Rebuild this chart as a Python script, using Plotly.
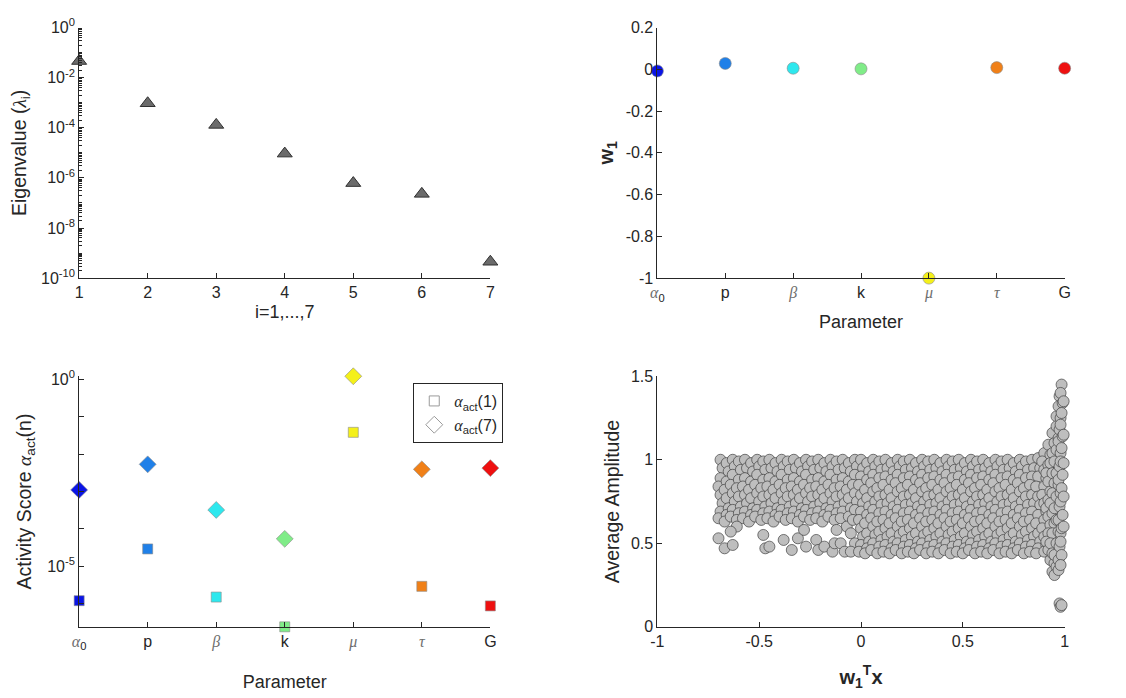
import plotly.graph_objects as go
from plotly.subplots import make_subplots

# ---- eigenvalue spectrum ----
eig_index = [1, 2, 3, 4, 5, 6, 7]
eig_values = [4.6e-2, 9.5e-4, 1.3e-4, 9.3e-6, 6.2e-7, 2.3e-7, 4.5e-10]

# ---- parameters and their colours ----
param_pos = [1, 2, 3, 4, 5, 6, 7]
GREEK = "<span style=\"font-family:'Liberation Serif', 'DejaVu Serif', serif; fill:#6e6e6e\">"
GREEK_DARK = "<span style=\"font-family:'Liberation Serif', 'DejaVu Serif', serif\">"
param_labels = [GREEK + "<i>α</i></span><sub>0</sub>", "p", GREEK + "<i>β</i></span>", "k",
                GREEK + "<i>μ</i></span>", GREEK + "<i>τ</i></span>", "G"]
param_colors = ["#0a14e6", "#2080e8", "#2ee8ee", "#80ec88", "#f4f01a", "#f08018", "#ee1010"]

# first eigenvector components
w1_values = [-0.008, 0.028, 0.005, 0.002, -1.0, 0.008, 0.005]

# activity scores
act1_values = [1.2e-6, 2.9e-5, 1.5e-6, 2.4e-7, 3.8e-2, 2.9e-6, 8.7e-7]
act7_values = [1.1e-3, 5.3e-3, 3.2e-4, 5.4e-5, 1.2e0, 3.9e-3, 4.2e-3]

# ---- average amplitude against the active variable ----
amp_x = [
    # left block
    -0.69, -0.68, -0.69, -0.70, -0.69, -0.68, -0.69, -0.70,
    -0.66, -0.65, -0.66, -0.67, -0.66, -0.65, -0.66, -0.67,
    -0.63, -0.62, -0.63, -0.64, -0.63, -0.62, -0.63, -0.64,
    -0.60, -0.59, -0.60, -0.61, -0.60, -0.59, -0.60, -0.61,
    -0.57, -0.56, -0.57, -0.58, -0.57, -0.56, -0.57, -0.58,
    -0.54, -0.53, -0.54, -0.55, -0.54, -0.53, -0.54, -0.55,
    -0.51, -0.50, -0.51, -0.52, -0.51, -0.50, -0.51, -0.52,
    -0.48, -0.47, -0.48, -0.49, -0.48, -0.47, -0.48, -0.49,
    -0.45, -0.44, -0.45, -0.46, -0.45, -0.44, -0.45, -0.46,
    -0.42, -0.41, -0.42, -0.43, -0.42, -0.41, -0.42, -0.43,
    -0.39, -0.38, -0.39, -0.40, -0.39, -0.38, -0.39, -0.40,
    -0.36, -0.35, -0.36, -0.37, -0.36, -0.35, -0.36, -0.37,
    -0.33, -0.32, -0.33, -0.34, -0.33, -0.32, -0.33, -0.34,
    -0.30, -0.29, -0.30, -0.31, -0.30, -0.29, -0.30, -0.31,
    -0.27, -0.26, -0.27, -0.28, -0.27, -0.26, -0.27, -0.28,
    -0.24, -0.23, -0.24, -0.25, -0.24, -0.23, -0.24, -0.25,
    -0.21, -0.20, -0.21, -0.22, -0.21, -0.20, -0.21, -0.22,
    -0.18, -0.17, -0.18, -0.19, -0.18, -0.17, -0.18, -0.19,
    -0.15, -0.14, -0.15, -0.16, -0.15, -0.14, -0.15, -0.16,
    -0.12, -0.11, -0.12, -0.13, -0.12, -0.11, -0.12, -0.13,
    -0.09, -0.08, -0.09, -0.10, -0.09, -0.08, -0.09, -0.10,
    -0.06, -0.05, -0.06, -0.07, -0.06, -0.05, -0.06, -0.07,
    -0.03, -0.02, -0.03, -0.04, -0.03, -0.02, -0.03, -0.04,
    # sparse low points on the left
    -0.70, -0.67, -0.63, -0.61, -0.64, -0.48, -0.47, -0.45, -0.38, -0.34, -0.31, -0.28,
    -0.27, -0.22, -0.21, -0.18, -0.14, -0.13, -0.10, -0.08, -0.12, -0.05, -0.03, -0.05,
    # central block
    0.00, 0.01, 0.00, -0.01, 0.00, 0.01, 0.00, -0.01, 0.00, 0.01, 0.00, -0.01,
    0.03, 0.04, 0.03, 0.02, 0.03, 0.04, 0.03, 0.02, 0.03, 0.04, 0.03, 0.02,
    0.06, 0.07, 0.06, 0.05, 0.06, 0.07, 0.06, 0.05, 0.06, 0.07, 0.06, 0.05,
    0.09, 0.10, 0.09, 0.08, 0.09, 0.10, 0.09, 0.08, 0.09, 0.10, 0.09, 0.08,
    0.12, 0.13, 0.12, 0.11, 0.12, 0.13, 0.12, 0.11, 0.12, 0.13, 0.12, 0.11,
    0.15, 0.16, 0.15, 0.14, 0.15, 0.16, 0.15, 0.14, 0.15, 0.16, 0.15, 0.14,
    0.18, 0.19, 0.18, 0.17, 0.18, 0.19, 0.18, 0.17, 0.18, 0.19, 0.18, 0.17,
    0.21, 0.22, 0.21, 0.20, 0.21, 0.22, 0.21, 0.20, 0.21, 0.22, 0.21, 0.20,
    0.24, 0.25, 0.24, 0.23, 0.24, 0.25, 0.24, 0.23, 0.24, 0.25, 0.24, 0.23,
    0.27, 0.28, 0.27, 0.26, 0.27, 0.28, 0.27, 0.26, 0.27, 0.28, 0.27, 0.26,
    0.30, 0.31, 0.30, 0.29, 0.30, 0.31, 0.30, 0.29, 0.30, 0.31, 0.30, 0.29,
    0.33, 0.34, 0.33, 0.32, 0.33, 0.34, 0.33, 0.32, 0.33, 0.34, 0.33, 0.32,
    0.36, 0.37, 0.36, 0.35, 0.36, 0.37, 0.36, 0.35, 0.36, 0.37, 0.36, 0.35,
    0.39, 0.40, 0.39, 0.38, 0.39, 0.40, 0.39, 0.38, 0.39, 0.40, 0.39, 0.38,
    0.42, 0.43, 0.42, 0.41, 0.42, 0.43, 0.42, 0.41, 0.42, 0.43, 0.42, 0.41,
    0.45, 0.46, 0.45, 0.44, 0.45, 0.46, 0.45, 0.44, 0.45, 0.46, 0.45, 0.44,
    0.48, 0.49, 0.48, 0.47, 0.48, 0.49, 0.48, 0.47, 0.48, 0.49, 0.48, 0.47,
    0.51, 0.52, 0.51, 0.50, 0.51, 0.52, 0.51, 0.50, 0.51, 0.52, 0.51, 0.50,
    0.54, 0.55, 0.54, 0.53, 0.54, 0.55, 0.54, 0.53, 0.54, 0.55, 0.54, 0.53,
    0.57, 0.58, 0.57, 0.56, 0.57, 0.58, 0.57, 0.56, 0.57, 0.58, 0.57, 0.56,
    0.60, 0.61, 0.60, 0.59, 0.60, 0.61, 0.60, 0.59, 0.60, 0.61, 0.60, 0.59,
    0.63, 0.64, 0.63, 0.62, 0.63, 0.64, 0.63, 0.62, 0.63, 0.64, 0.63, 0.62,
    0.66, 0.67, 0.66, 0.65, 0.66, 0.67, 0.66, 0.65, 0.66, 0.67, 0.66, 0.65,
    0.69, 0.70, 0.69, 0.68, 0.69, 0.70, 0.69, 0.68, 0.69, 0.70, 0.69, 0.68,
    0.72, 0.73, 0.72, 0.71, 0.72, 0.73, 0.72, 0.71, 0.72, 0.73, 0.72, 0.71,
    0.75, 0.76, 0.75, 0.74, 0.75, 0.76, 0.75, 0.74, 0.75, 0.76, 0.75, 0.74,
    0.78, 0.79, 0.78, 0.77, 0.78, 0.79, 0.78, 0.77, 0.78, 0.79, 0.78, 0.77,
    0.81, 0.82, 0.81, 0.80, 0.81, 0.82, 0.81, 0.80, 0.81, 0.82, 0.81, 0.80,
    0.84, 0.85, 0.84, 0.83, 0.84, 0.85, 0.84, 0.83, 0.84, 0.85, 0.84, 0.83,
    0.87, 0.88, 0.87, 0.86, 0.87, 0.88, 0.87, 0.86, 0.87, 0.88, 0.87, 0.86,
    # right-hand spike
    0.90, 0.89, 0.90, 0.91, 0.90, 0.89, 0.90, 0.91, 0.90, 0.89, 0.90, 0.91, 0.90,
    0.92, 0.93, 0.92, 0.91, 0.92, 0.93, 0.92, 0.91, 0.92, 0.93, 0.92, 0.91, 0.92, 0.93,
    0.94, 0.95, 0.94, 0.93, 0.94, 0.95, 0.94, 0.93, 0.94, 0.95, 0.94, 0.93, 0.94, 0.95, 0.94,
    0.96, 0.96, 0.97, 0.96, 0.95, 0.96, 0.97, 0.96, 0.95, 0.96, 0.97, 0.96, 0.95, 0.96, 0.95,
    0.975, 0.97, 0.98, 0.975, 0.97, 0.98, 0.975, 0.97, 0.98, 0.975, 0.97, 0.98, 0.975, 0.97, 0.97,
    0.985, 0.98, 0.99, 0.985, 0.98, 0.99, 0.985, 0.98, 0.99, 0.985, 0.98, 0.99, 0.985, 0.98, 0.985, 0.98,
    0.995, 0.995, 0.995, 0.995, 0.995,
    # low outliers
    0.975, 0.98, 0.985,
]
amp_y = [
    # left block
    1.00, 0.95, 0.89, 0.84, 0.79, 0.74, 0.69, 0.65,
    0.98, 0.93, 0.87, 0.82, 0.77, 0.71, 0.67, 0.63,
    1.00, 0.96, 0.91, 0.85, 0.80, 0.75, 0.70, 0.66,
    0.99, 0.94, 0.88, 0.83, 0.78, 0.72, 0.68, 0.64,
    1.00, 0.95, 0.89, 0.84, 0.79, 0.74, 0.69, 0.65,
    0.98, 0.93, 0.87, 0.82, 0.77, 0.71, 0.67, 0.63,
    1.00, 0.96, 0.91, 0.85, 0.80, 0.75, 0.70, 0.66,
    0.99, 0.94, 0.88, 0.83, 0.78, 0.72, 0.68, 0.64,
    1.00, 0.95, 0.89, 0.84, 0.79, 0.74, 0.69, 0.65,
    0.98, 0.93, 0.87, 0.82, 0.77, 0.71, 0.67, 0.63,
    1.00, 0.96, 0.91, 0.85, 0.80, 0.75, 0.70, 0.66,
    0.99, 0.94, 0.88, 0.83, 0.78, 0.72, 0.68, 0.64,
    1.00, 0.95, 0.89, 0.84, 0.79, 0.74, 0.69, 0.65,
    0.98, 0.93, 0.87, 0.82, 0.77, 0.71, 0.67, 0.63,
    1.00, 0.96, 0.91, 0.85, 0.80, 0.75, 0.70, 0.66,
    0.99, 0.94, 0.88, 0.83, 0.78, 0.72, 0.68, 0.64,
    1.00, 0.95, 0.89, 0.84, 0.79, 0.74, 0.69, 0.65,
    0.98, 0.93, 0.87, 0.82, 0.77, 0.71, 0.67, 0.63,
    1.00, 0.96, 0.91, 0.85, 0.80, 0.75, 0.70, 0.66,
    0.99, 0.94, 0.88, 0.83, 0.78, 0.72, 0.68, 0.64,
    1.00, 0.95, 0.89, 0.84, 0.79, 0.74, 0.69, 0.65,
    0.98, 0.93, 0.87, 0.82, 0.77, 0.71, 0.66, 0.60,
    1.00, 0.96, 0.91, 0.85, 0.80, 0.75, 0.70, 0.64,
    # sparse low points on the left
    0.53, 0.47, 0.49, 0.60, 0.57, 0.55, 0.47, 0.48, 0.52, 0.46, 0.53, 0.58,
    0.48, 0.52, 0.46, 0.48, 0.45, 0.50, 0.50, 0.45, 0.58, 0.56, 0.50, 0.45,
    # central block
    1.00, 0.95, 0.90, 0.85, 0.79, 0.74, 0.69, 0.64, 0.59, 0.54, 0.49, 0.45,
    0.98, 0.93, 0.88, 0.82, 0.77, 0.72, 0.67, 0.62, 0.56, 0.51, 0.47, 0.44,
    1.00, 0.96, 0.91, 0.86, 0.81, 0.75, 0.70, 0.65, 0.60, 0.55, 0.50, 0.46,
    0.99, 0.94, 0.89, 0.83, 0.78, 0.73, 0.68, 0.63, 0.57, 0.52, 0.48, 0.44,
    1.00, 0.95, 0.90, 0.85, 0.79, 0.74, 0.69, 0.64, 0.59, 0.54, 0.49, 0.45,
    0.98, 0.93, 0.88, 0.82, 0.77, 0.72, 0.67, 0.62, 0.56, 0.51, 0.47, 0.44,
    1.00, 0.96, 0.91, 0.86, 0.81, 0.75, 0.70, 0.65, 0.60, 0.55, 0.50, 0.46,
    0.99, 0.94, 0.89, 0.83, 0.78, 0.73, 0.68, 0.63, 0.57, 0.52, 0.48, 0.44,
    1.00, 0.95, 0.90, 0.85, 0.79, 0.74, 0.69, 0.64, 0.59, 0.54, 0.49, 0.45,
    0.98, 0.93, 0.88, 0.82, 0.77, 0.72, 0.67, 0.62, 0.56, 0.51, 0.47, 0.44,
    1.00, 0.96, 0.91, 0.86, 0.81, 0.75, 0.70, 0.65, 0.60, 0.55, 0.50, 0.46,
    0.99, 0.94, 0.89, 0.83, 0.78, 0.73, 0.68, 0.63, 0.57, 0.52, 0.48, 0.44,
    1.00, 0.95, 0.90, 0.85, 0.79, 0.74, 0.69, 0.64, 0.59, 0.54, 0.49, 0.45,
    0.98, 0.93, 0.88, 0.82, 0.77, 0.72, 0.67, 0.62, 0.56, 0.51, 0.47, 0.44,
    1.00, 0.96, 0.91, 0.86, 0.81, 0.75, 0.70, 0.65, 0.60, 0.55, 0.50, 0.46,
    0.99, 0.94, 0.89, 0.83, 0.78, 0.73, 0.68, 0.63, 0.57, 0.52, 0.48, 0.44,
    1.00, 0.95, 0.90, 0.85, 0.79, 0.74, 0.69, 0.64, 0.59, 0.54, 0.49, 0.45,
    0.98, 0.93, 0.88, 0.82, 0.77, 0.72, 0.67, 0.62, 0.56, 0.51, 0.47, 0.44,
    1.00, 0.96, 0.91, 0.86, 0.81, 0.75, 0.70, 0.65, 0.60, 0.55, 0.50, 0.46,
    0.99, 0.94, 0.89, 0.83, 0.78, 0.73, 0.68, 0.63, 0.57, 0.52, 0.48, 0.44,
    1.00, 0.95, 0.90, 0.85, 0.79, 0.74, 0.69, 0.64, 0.59, 0.54, 0.49, 0.45,
    0.98, 0.93, 0.88, 0.82, 0.77, 0.72, 0.67, 0.62, 0.56, 0.51, 0.47, 0.44,
    1.00, 0.96, 0.91, 0.86, 0.81, 0.75, 0.70, 0.65, 0.60, 0.55, 0.50, 0.46,
    0.99, 0.94, 0.89, 0.83, 0.78, 0.73, 0.68, 0.63, 0.57, 0.52, 0.48, 0.44,
    1.00, 0.95, 0.90, 0.85, 0.79, 0.74, 0.69, 0.64, 0.59, 0.54, 0.49, 0.45,
    0.98, 0.93, 0.88, 0.82, 0.77, 0.72, 0.67, 0.62, 0.56, 0.51, 0.47, 0.44,
    1.00, 0.96, 0.91, 0.86, 0.81, 0.75, 0.70, 0.65, 0.60, 0.55, 0.50, 0.46,
    0.99, 0.94, 0.89, 0.83, 0.78, 0.73, 0.68, 0.63, 0.57, 0.52, 0.48, 0.44,
    1.00, 0.95, 0.90, 0.85, 0.79, 0.74, 0.69, 0.64, 0.59, 0.54, 0.49, 0.45,
    1.01, 0.95, 0.90, 0.84, 0.78, 0.73, 0.67, 0.62, 0.56, 0.51, 0.47, 0.44,
    # right-hand spike
    1.04, 0.99, 0.94, 0.89, 0.84, 0.79, 0.74, 0.69, 0.64, 0.59, 0.54, 0.49, 0.45,
    1.09, 1.03, 0.97, 0.92, 0.87, 0.81, 0.76, 0.71, 0.66, 0.61, 0.56, 0.51, 0.46, 0.40,
    1.16, 1.10, 1.04, 0.98, 0.92, 0.86, 0.80, 0.74, 0.68, 0.62, 0.56, 0.50, 0.44, 0.38, 0.33,
    1.26, 1.20, 1.13, 1.06, 0.99, 0.92, 0.85, 0.78, 0.71, 0.64, 0.57, 0.50, 0.43, 0.36, 0.31,
    1.38, 1.32, 1.25, 1.18, 1.11, 1.04, 0.96, 0.88, 0.80, 0.72, 0.64, 0.56, 0.48, 0.40, 0.34,
    1.45, 1.40, 1.34, 1.28, 1.21, 1.14, 1.07, 0.99, 0.91, 0.83, 0.75, 0.67, 0.59, 0.51, 0.43, 0.37,
    1.35, 1.15, 0.98, 0.78, 0.60,
    # low outliers
    0.14, 0.12, 0.13,
]

INK = "#262626"
FONT = "Liberation Sans, Arial, Helvetica, sans-serif"
TICK_FONT = dict(size=16, color=INK, family=FONT)
XTITLE_FONT = dict(size=18, color=INK, family=FONT)
YTITLE_FONT = dict(size=19.5, color=INK, family=FONT)

fig = make_subplots(rows=2, cols=2)

# eigenvalues
fig.add_trace(go.Scatter(
    x=eig_index, y=eig_values, mode="markers", showlegend=False, cliponaxis=False,
    marker=dict(symbol="triangle-up", size=13, color="#6b6b6b",
                line=dict(color="#303030", width=1)),
), row=1, col=1)

# first eigenvector
fig.add_trace(go.Scatter(
    x=param_pos, y=w1_values, mode="markers", showlegend=False, cliponaxis=False,
    marker=dict(symbol="circle", size=12, color=param_colors,
                line=dict(color="#8a8a8a", width=0.6)),
), row=1, col=2)

# activity scores
fig.add_trace(go.Scatter(
    x=param_pos, y=act1_values, mode="markers", showlegend=False, cliponaxis=False,
    marker=dict(symbol="square", size=10, color=param_colors,
                line=dict(color="#8a8a8a", width=0.6)),
), row=2, col=1)
fig.add_trace(go.Scatter(
    x=param_pos, y=act7_values, mode="markers", showlegend=False, cliponaxis=False,
    marker=dict(symbol="diamond", size=13, color=param_colors,
                line=dict(color="#8a8a8a", width=0.6)),
), row=2, col=1)
# legend keys
fig.add_trace(go.Scatter(
    x=[None], y=[None], mode="markers", name=GREEK_DARK + "<i>α</i></span><sub>act</sub>(1)",
    marker=dict(symbol="square-open", size=10, color="#9a9a9a"),
), row=2, col=1)
fig.add_trace(go.Scatter(
    x=[None], y=[None], mode="markers", name=GREEK_DARK + "<i>α</i></span><sub>act</sub>(7)",
    marker=dict(symbol="diamond-open", size=13, color="#9a9a9a"),
), row=2, col=1)

# amplitude scatter
fig.add_trace(go.Scatter(
    x=amp_x, y=amp_y, mode="markers", showlegend=False, cliponaxis=False,
    marker=dict(symbol="circle", size=11, color="#bebebe",
                line=dict(color="#404040", width=0.7)),
), row=2, col=2)

axis_common = dict(showline=True, linecolor=INK, linewidth=1, ticks="inside",
                   ticklen=5, tickcolor=INK, showgrid=False, zeroline=False,
                   mirror=False, tickfont=TICK_FONT)

left_dom = [73 / 1126, 489 / 1126]
right_dom = [658 / 1126, 1070 / 1126]
top_dom = [1 - 275 / 698, 1 - 17 / 698]
bot_dom = [1 - 634 / 698, 1 - 376 / 698]

# top-left axes
eig_ticks = [1e-10, 1e-8, 1e-6, 1e-4, 1e-2, 1e0]
eig_ticktext = ["10<sup>-10</sup>", "10<sup>-8</sup>", "10<sup>-6</sup>",
                "10<sup>-4</sup>", "10<sup>-2</sup>", "10<sup>0</sup>"]
eig_minor = [m * 10.0 ** e for e in range(-10, 0) for m in range(2, 10)] + \
            [10.0 ** e for e in range(-9, 0, 2)]
fig.update_xaxes(axis_common, domain=left_dom, range=[1, 7], tickvals=eig_index,
                 title=dict(text="i=1,...,7", font=XTITLE_FONT, standoff=5),
                 row=1, col=1)
fig.update_yaxes(axis_common, domain=top_dom, type="log", range=[-10, 0],
                 tickvals=eig_ticks, ticktext=eig_ticktext,
                 minor=dict(tickvals=eig_minor, ticks="inside", ticklen=3, tickcolor=INK),
                 title=dict(text="Eigenvalue (" + GREEK_DARK + "<i>λ</i></span><sub>i</sub>)",
                            font=YTITLE_FONT, standoff=9),
                 row=1, col=1)

# top-right axes
w_ticks = [-1, -0.8, -0.6, -0.4, -0.2, 0, 0.2]
w_ticktext = ["-1", "-0.8", "-0.6", "-0.4", "-0.2", "0", "0.2"]
fig.update_xaxes(axis_common, domain=right_dom, range=[1, 7], tickvals=param_pos,
                 ticktext=param_labels,
                 title=dict(text="Parameter", font=XTITLE_FONT, standoff=12),
                 row=1, col=2)
fig.update_yaxes(axis_common, domain=top_dom, range=[-1, 0.2], tickvals=w_ticks,
                 ticktext=w_ticktext,
                 title=dict(text="<b>w<sub>1</sub></b>", font=dict(size=20, color=INK, family=FONT),
                            standoff=6),
                 row=1, col=2)

# bottom-left axes
act_ticks = [1e-5, 1e0]
act_ticktext = ["10<sup>-5</sup>", "10<sup>0</sup>"]
act_minor = [10.0 ** e for e in (-6, -4, -3, -2, -1)]
fig.update_xaxes(axis_common, domain=left_dom, range=[1, 7], tickvals=param_pos,
                 ticktext=param_labels,
                 title=dict(text="Parameter", font=XTITLE_FONT, standoff=24),
                 row=2, col=1)
fig.update_yaxes(axis_common, domain=bot_dom, type="log", range=[-6.62, 0.08],
                 tickvals=act_ticks, ticktext=act_ticktext,
                 minor=dict(tickvals=act_minor, ticks="inside", ticklen=5, tickcolor=INK),
                 title=dict(text="Activity Score " + GREEK_DARK + "<i>α</i></span><sub>act</sub>(n)",
                            font=YTITLE_FONT, standoff=10),
                 row=2, col=1)

# bottom-right axes
fig.update_xaxes(axis_common, domain=right_dom, range=[-1, 1],
                 tickvals=[-1, -0.5, 0, 0.5, 1], ticktext=["-1", "-0.5", "0", "0.5", "1"],
                 title=dict(text="<b>w<sub>1</sub><sup>T</sup>x</b>",
                            font=dict(size=20, color=INK, family=FONT), standoff=20),
                 row=2, col=2)
fig.update_yaxes(axis_common, domain=bot_dom, range=[0, 1.5],
                 tickvals=[0, 0.5, 1, 1.5], ticktext=["0", "0.5", "1", "1.5"],
                 title=dict(text="Average Amplitude", font=YTITLE_FONT, standoff=6),
                 row=2, col=2)

fig.update_layout(
    width=1126, height=698, margin=dict(l=0, r=0, t=0, b=0),
    paper_bgcolor="white", plot_bgcolor="white",
    font=dict(family=FONT, size=16, color=INK),
    legend=dict(x=411 / 1126, y=1 - 383 / 698, xanchor="left", yanchor="top",
                bordercolor=INK, borderwidth=1, bgcolor="white",
                font=dict(size=16, color=INK, family=FONT),
                tracegroupgap=0, itemwidth=30),
)

fig.write_html("out.html")
